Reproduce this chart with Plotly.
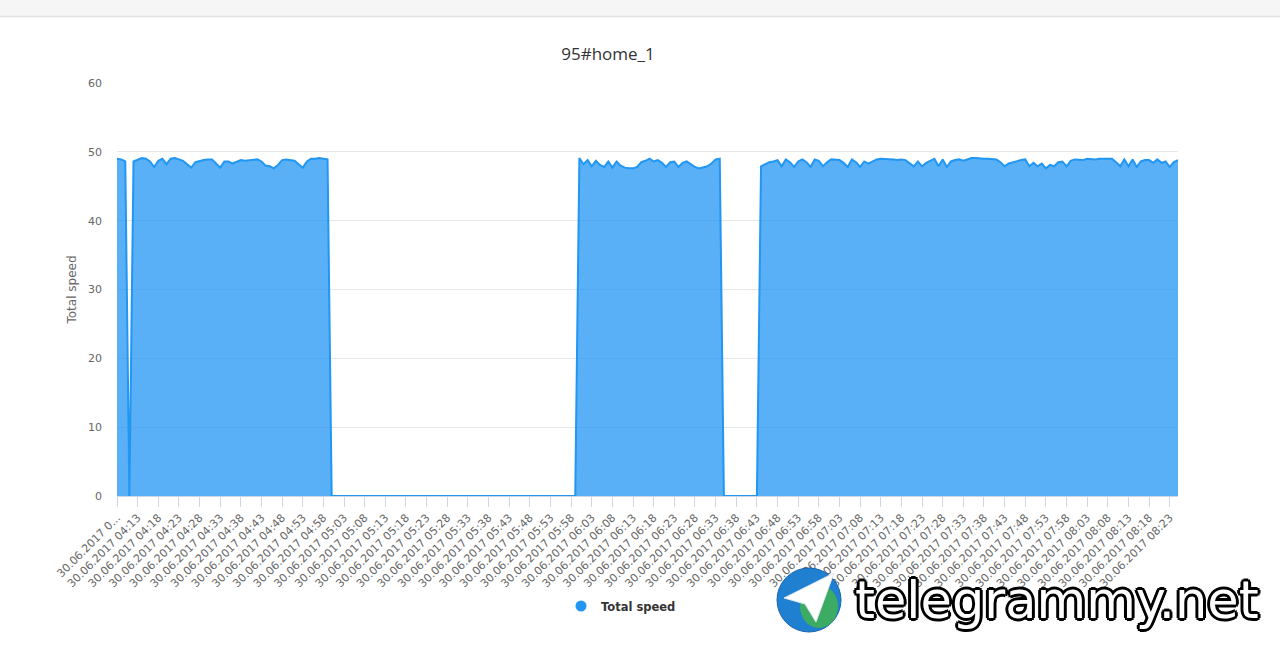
import plotly.graph_objects as go
from datetime import datetime, timedelta

# ---------------- data ----------------
start_time = datetime(2017, 6, 30, 4, 8)
n_points = 258
categories = [(start_time + timedelta(minutes=i)).strftime("%d.%m.%Y %H:%M") for i in range(n_points)]

block_a = [49.0, 48.9, 48.6, 0.0]
block_b = [48.6, 48.9, 49.1, 49.0, 48.6, 47.8, 48.7, 49.0, 48.2, 49.0,
           49.1, 48.9, 48.7, 48.2, 47.7, 48.5, 48.7, 48.8, 48.9, 48.9,
           48.3, 47.7, 48.6, 48.6, 48.3, 48.6, 48.8, 48.7, 48.8, 48.9,
           48.9, 48.6, 48.0, 47.9, 47.6, 48.1, 48.8, 48.9, 48.8, 48.7,
           48.2, 47.7, 48.6, 49.0, 49.0, 49.1, 49.0, 48.9]
gap_1 = [0.0] * 60
block_c = [49.1, 48.2, 48.8, 47.9, 48.7, 48.1, 47.8, 48.6, 47.7, 48.6,
           48.0, 47.7, 47.6, 47.6, 47.8, 48.5, 48.7, 49.0, 48.6, 48.8,
           48.4, 47.8, 48.5, 48.6, 47.8, 48.4, 48.6, 48.2, 47.8, 47.6,
           47.7, 47.9, 48.3, 48.9, 49.0]
gap_2 = [0.0] * 9
block_d = [47.9, 48.2, 48.5, 48.6, 48.8, 47.9, 48.9, 48.5, 47.8, 48.6,
           48.9, 48.5, 47.8, 48.9, 48.7, 47.9, 48.5, 48.9, 48.9, 48.8,
           48.4, 47.8, 48.9, 48.5, 47.8, 48.6, 48.3, 48.6, 48.9, 49.0,
           49.0, 49.0, 48.9, 48.8, 48.9, 48.8, 48.4, 47.9, 48.6, 47.9,
           48.4, 48.7, 49.0, 47.9, 48.9, 47.8, 48.6, 48.8, 48.9, 48.7,
           48.9, 49.1, 49.1, 49.0, 49.0, 49.0, 48.9, 48.9, 48.5, 47.9,
           48.3, 48.5, 48.6, 48.8, 48.9, 47.9, 48.4, 47.9, 48.3, 47.6,
           48.1, 47.9, 48.5, 48.6, 47.9, 48.7, 48.9, 48.8, 48.8, 49.0,
           48.9, 48.9, 49.0, 49.0, 48.9, 49.0, 48.5, 47.9, 48.9, 47.9,
           48.9, 47.8, 48.6, 48.8, 48.8, 48.4, 48.9, 48.4, 48.6, 47.8,
           48.5, 48.8]
total_speed = block_a + block_b + gap_1 + block_c + gap_2 + block_d

tick_step = 5
tick_vals = categories[::tick_step]
tick_text = ["30.06.2017 0..."] + tick_vals[1:]

y_ticks = [0, 10, 20, 30, 40, 50, 60]

SERIES = "#2196f3"
FONT = "DejaVu Sans"

fig = go.Figure()
fig.add_trace(go.Scatter(
    x=categories, y=total_speed, mode="lines", fill="tozeroy",
    line=dict(color=SERIES, width=2), fillcolor="rgba(33,150,243,0.75)",
    name="Total speed", showlegend=False))
fig.add_trace(go.Scatter(
    x=[None], y=[None], mode="markers", name="Total speed",
    marker=dict(symbol="circle", size=11, color=SERIES)))

fig.update_layout(
    width=1280, height=661,
    paper_bgcolor="white", plot_bgcolor="white",
    margin=dict(l=117, r=102, t=83, b=165, autoexpand=False),
    font=dict(family=FONT, color="#666666", size=11),
    title=dict(text="95#home_1", x=608 / 1280, xanchor="center", xref="container",
               y=1 - 54 / 661, yanchor="middle", yref="container",
               font=dict(size=17, color="#333333", family="Open Sans")),
    showlegend=True,
    legend=dict(orientation="h", xref="container", yref="container",
                x=621 / 1280, xanchor="center", y=1 - 606 / 661, yanchor="middle",
                font=dict(size=11.5, color="#333333", family=FONT, weight=700),
                itemwidth=30),
    hovermode="x",
)

fig.update_xaxes(
    type="category", range=[0, n_points - 1], automargin=False,
    tickmode="array", tickvals=tick_vals, ticktext=tick_text,
    tickangle=-45, tickfont=dict(size=11, color="#666666"),
    showline=True, linecolor="#ccd6eb", linewidth=1,
    ticks="outside", ticklen=10, tickcolor="#ccd6eb",
    showgrid=False, zeroline=False,
)
fig.update_yaxes(
    range=[0, 60], tickmode="array", tickvals=y_ticks, automargin=False,
    gridcolor="#e6e6e6", gridwidth=1, zeroline=False, showline=False,
    tickfont=dict(size=11, color="#666666"), ticks="", ticklabelstandoff=14,
    title=dict(text="Total speed", font=dict(size=12, color="#666666"), standoff=8),
)

def px(xp):
    return (xp - 117) / 1061

def py(yp):
    return (496 - yp) / 413

# top browser bar
fig.add_shape(type="rect", xref="paper", yref="paper",
              x0=-0.2, x1=1.2, y0=py(16), y1=py(-10),
              fillcolor="#f6f6f6", line=dict(width=0), layer="above")
fig.add_shape(type="line", xref="paper", yref="paper",
              x0=-0.2, x1=1.2, y0=py(16.5), y1=py(16.5),
              line=dict(color="#e0e0e0", width=1.5))

# watermark
fig.add_shape(type="circle", xref="paper", yref="paper",
              x0=px(777), x1=px(841), y0=py(632), y1=py(568),
              fillcolor="#1f7fd0", line=dict(color="#1565b0", width=1))
fig.add_shape(type="circle", xref="paper", yref="paper",
              x0=px(800), x1=px(838), y0=py(628), y1=py(585),
              fillcolor="#43b649", line=dict(width=0), opacity=0.8)
fig.add_shape(type="path", xref="paper", yref="paper",
              path=f"M {px(784)},{py(598)} L {px(834)},{py(573)} L {px(816)},{py(622)} L {px(805)},{py(604)} Z",
              fillcolor="white", line=dict(color="#dfe8f0", width=1))
fig.add_annotation(text="telegrammy.net", xref="paper", yref="paper",
                   x=px(1057), y=py(600), xanchor="center", yanchor="middle",
                   showarrow=False,
                   font=dict(family="DejaVu Sans", size=51, color="white",
                             shadow="2px 2px 0 #000, -2px -2px 0 #000, 2px -2px 0 #000, -2px 2px 0 #000, 0 3px 0 #000, 3px 0 0 #000, 0 -3px 0 #000, -3px 0 0 #000"))

fig.write_html("out.html", config={"displayModeBar": False},
               post_script="document.body.style.margin='0';")
